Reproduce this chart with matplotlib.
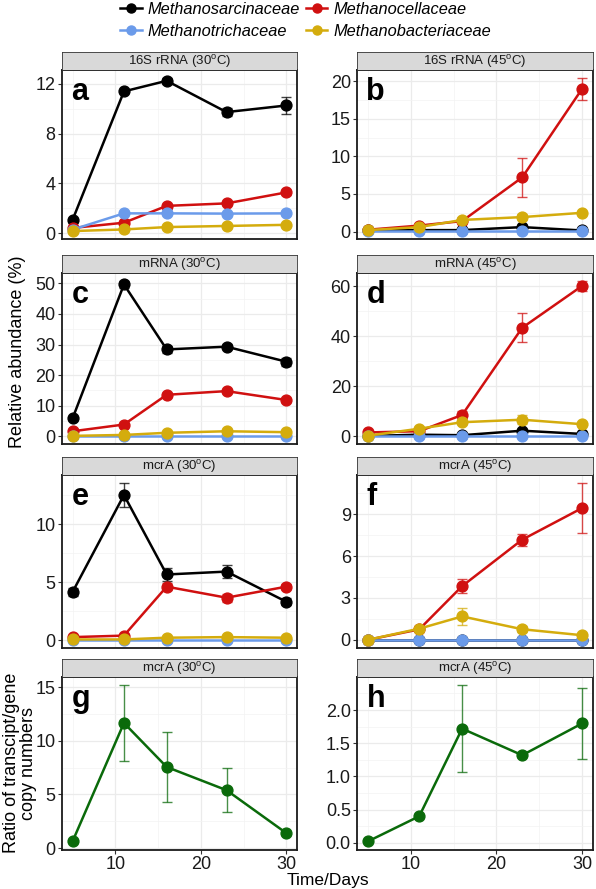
import matplotlib
matplotlib.use('Agg')
import matplotlib.pyplot as plt
from matplotlib.lines import Line2D
from matplotlib.ticker import MultipleLocator, FormatStrFormatter

plt.rcParams['font.family'] = ['Liberation Sans', 'DejaVu Sans']
plt.rcParams['mathtext.fontset'] = 'custom'
plt.rcParams['mathtext.rm'] = 'Liberation Sans'

days = [5, 11, 16, 23, 30]

# panel a: 16S rRNA 30C
a_sarc = [1.1, 11.38, 12.23, 9.72, 10.25]
a_sarc_err = [0.1, 0.15, 0.25, 0.35, 0.65]
a_cell = [0.43, 0.85, 2.2, 2.4, 3.28]
a_cell_err = [0.05, 0.1, 0.15, 0.15, 0.2]
a_trich = [0.3, 1.6, 1.6, 1.58, 1.6]
a_trich_err = [0.03, 0.1, 0.1, 0.1, 0.1]
a_bact = [0.18, 0.31, 0.5, 0.59, 0.68]
a_bact_err = [0.02, 0.05, 0.05, 0.05, 0.05]

# panel b: 16S rRNA 45C
b_sarc = [0.15, 0.2, 0.2, 0.6, 0.15]
b_sarc_err = [0.02, 0.05, 0.05, 0.1, 0.05]
b_cell = [0.25, 0.8, 1.4, 7.2, 19.0]
b_cell_err = [0.05, 0.1, 0.2, 2.6, 1.45]
b_trich = [0.05, 0.05, 0.05, 0.05, 0.05]
b_trich_err = [0.01, 0.01, 0.01, 0.01, 0.01]
b_bact = [0.2, 0.6, 1.55, 1.93, 2.5]
b_bact_err = [0.05, 0.1, 0.3, 0.4, 0.15]

# panel c: mRNA 30C
c_sarc = [6.0, 49.6, 28.4, 29.3, 24.4]
c_sarc_err = [0.5, 1.2, 1.2, 0.8, 1.3]
c_cell = [1.7, 3.9, 13.6, 14.8, 11.9]
c_cell_err = [0.2, 0.3, 0.6, 0.5, 0.6]
c_trich = [0.1, 0.1, 0.1, 0.1, 0.1]
c_trich_err = [0.02, 0.02, 0.02, 0.02, 0.02]
c_bact = [0.2, 0.5, 1.2, 1.7, 1.4]
c_bact_err = [0.05, 0.1, 0.2, 0.2, 0.2]

# panel d: mRNA 45C
d_sarc = [0.1, 0.6, 0.4, 2.2, 0.9]
d_sarc_err = [0.05, 0.2, 0.1, 0.5, 0.3]
d_cell = [1.5, 2.0, 8.5, 43.4, 60.2]
d_cell_err = [0.2, 0.3, 1.5, 5.9, 2.0]
d_trich = [0.0, 0.0, 0.0, 0.0, 0.0]
d_trich_err = [0.01, 0.01, 0.01, 0.01, 0.01]
d_bact = [0.2, 3.0, 5.6, 6.6, 4.8]
d_bact_err = [0.05, 0.4, 0.6, 1.8, 0.5]

# panel e: mcrA 30C
e_sarc = [4.16, 12.5, 5.65, 5.9, 3.3]
e_sarc_err = [0.35, 1.05, 0.55, 0.55, 0.3]
e_cell = [0.25, 0.38, 4.6, 3.65, 4.6]
e_cell_err = [0.03, 0.05, 0.3, 0.35, 0.2]
e_trich = [0.0, 0.0, 0.0, 0.0, 0.0]
e_trich_err = [0.01, 0.01, 0.01, 0.01, 0.01]
e_bact = [0.05, 0.05, 0.2, 0.25, 0.2]
e_bact_err = [0.01, 0.01, 0.03, 0.03, 0.03]

# panel f: mcrA 45C
f_sarc = [0.0, 0.0, 0.0, 0.0, 0.0]
f_sarc_err = [0.0, 0.0, 0.0, 0.0, 0.0]
f_cell = [0.0, 0.75, 3.85, 7.18, 9.45]
f_cell_err = [0.02, 0.1, 0.5, 0.44, 1.8]
f_trich = [0.0, 0.0, 0.0, 0.0, 0.0]
f_trich_err = [0.0, 0.0, 0.0, 0.0, 0.0]
f_bact = [0.0, 0.8, 1.68, 0.76, 0.33]
f_bact_err = [0.02, 0.2, 0.6, 0.2, 0.05]

# panels g, h: transcript/gene ratio
g_ratio = [0.66, 11.66, 7.56, 5.4, 1.4]
g_ratio_err = [0.1, 3.55, 3.3, 2.05, 0.2]
h_ratio = [0.02, 0.4, 1.72, 1.32, 1.8]
h_ratio_err = [0.01, 0.03, 0.66, 0.03, 0.53]

families = ['Methanosarcinaceae', 'Methanocellaceae',
            'Methanotrichaceae', 'Methanobacteriaceae']
fam_colors = ['#000000', '#D01010', '#6B9BEA', '#D4AC0D']
ratio_color = '#0A6A0A'

W, H = 596, 889
fig = plt.figure(figsize=(W / 100, H / 100), dpi=100, facecolor='white')

col_x = [(62, 297), (357, 593)]
row_y = [(70, 239), (273, 444), (475, 648), (677, 850)]
strip_h = 18


def make_axes(row, col, strip_label):
    x0, x1 = col_x[col]
    top, bottom = row_y[row]
    ax = fig.add_axes([x0 / W, 1 - bottom / H, (x1 - x0) / W,
                       (bottom - top) / H])
    sax = fig.add_axes([x0 / W, 1 - top / H, (x1 - x0) / W, strip_h / H])
    sax.set_facecolor('#D9D9D9')
    sax.set_xticks([])
    sax.set_yticks([])
    for sp in sax.spines.values():
        sp.set_color('#333333')
        sp.set_linewidth(0.6)
    sax.text(0.5, 0.45, strip_label, ha='center', va='center',
             fontsize=9.5, color='#1A1A1A', transform=sax.transAxes)
    return ax


def style_axes(ax, letter, yticks, bottom_row, series_vals, series_errs,
               yfmt=None):
    lo = min(min(v - e for v, e in zip(s, er))
             for s, er in zip(series_vals, series_errs))
    hi = max(max(v + e for v, e in zip(s, er))
             for s, er in zip(series_vals, series_errs))
    pad = 0.05 * (hi - lo)
    ax.set_ylim(lo - pad, hi + pad)
    ax.set_xlim(3.75, 31.25)
    ax.set_yticks(yticks)
    step = yticks[1] - yticks[0]
    ax.yaxis.set_minor_locator(MultipleLocator(step / 2))
    ax.set_xticks([10, 20, 30])
    ax.xaxis.set_minor_locator(MultipleLocator(5))
    ax.grid(which='major', color='#EBEBEB', linewidth=0.9)
    ax.grid(which='minor', color='#F3F3F3', linewidth=0.5)
    ax.set_axisbelow(True)
    ax.tick_params(which='minor', length=0)
    ax.tick_params(which='major', length=3, width=0.8, color='#333333',
                   labelsize=13, labelcolor='#1A1A1A', pad=1.5)
    if yfmt:
        ax.yaxis.set_major_formatter(FormatStrFormatter(yfmt))
    if not bottom_row:
        ax.tick_params(axis='x', which='both', length=0, labelbottom=False)
    for sp in ax.spines.values():
        sp.set_color('#1A1A1A')
        sp.set_linewidth(1.3)
    ax.text(0.04, 0.96, letter, transform=ax.transAxes, ha='left',
            va='top', fontsize=22, fontweight='bold')


def draw_series(ax, vals, errs, color):
    ax.errorbar(days, vals, yerr=errs, fmt='none', ecolor=color,
                elinewidth=1.0, capsize=3.5, capthick=1.0, alpha=0.75,
                zorder=3)
    ax.plot(days, vals, '-o', color=color, linewidth=1.8, markersize=7.8,
            zorder=4)


def family_panel(row, col, label, letter, yticks, sarc, sarc_err, cell,
                 cell_err, trich, trich_err, bact, bact_err):
    ax = make_axes(row, col, label)
    vals = [sarc, cell, trich, bact]
    errs = [sarc_err, cell_err, trich_err, bact_err]
    for i in range(4):
        draw_series(ax, vals[i], errs[i], fam_colors[i])
    style_axes(ax, letter, yticks, False, vals, errs)
    return ax


deg30 = r'(30$^{\rm o}$C)'
deg45 = r'(45$^{\rm o}$C)'

family_panel(0, 0, '16S rRNA ' + deg30, 'a', [0, 4, 8, 12],
             a_sarc, a_sarc_err, a_cell, a_cell_err, a_trich, a_trich_err,
             a_bact, a_bact_err)
family_panel(0, 1, '16S rRNA ' + deg45, 'b', [0, 5, 10, 15, 20],
             b_sarc, b_sarc_err, b_cell, b_cell_err, b_trich, b_trich_err,
             b_bact, b_bact_err)
family_panel(1, 0, 'mRNA ' + deg30, 'c', [0, 10, 20, 30, 40, 50],
             c_sarc, c_sarc_err, c_cell, c_cell_err, c_trich, c_trich_err,
             c_bact, c_bact_err)
family_panel(1, 1, 'mRNA ' + deg45, 'd', [0, 20, 40, 60],
             d_sarc, d_sarc_err, d_cell, d_cell_err, d_trich, d_trich_err,
             d_bact, d_bact_err)
family_panel(2, 0, 'mcrA ' + deg30, 'e', [0, 5, 10],
             e_sarc, e_sarc_err, e_cell, e_cell_err, e_trich, e_trich_err,
             e_bact, e_bact_err)
family_panel(2, 1, 'mcrA ' + deg45, 'f', [0, 3, 6, 9],
             f_sarc, f_sarc_err, f_cell, f_cell_err, f_trich, f_trich_err,
             f_bact, f_bact_err)

# ratio panels
ax_g = make_axes(3, 0, 'mcrA ' + deg30)
draw_series(ax_g, g_ratio, g_ratio_err, ratio_color)
style_axes(ax_g, 'g', [0, 5, 10, 15], True, [g_ratio], [g_ratio_err])

ax_h = make_axes(3, 1, 'mcrA ' + deg45)
draw_series(ax_h, h_ratio, h_ratio_err, ratio_color)
style_axes(ax_h, 'h', [0.0, 0.5, 1.0, 1.5, 2.0], True, [h_ratio],
           [h_ratio_err], yfmt='%.1f')

# axis titles
fig.text(18 / W, 1 - 352 / H, 'Relative abundance (%)', rotation=90,
         ha='center', va='center', fontsize=13)
fig.text(20 / W, 1 - 763 / H, 'Ratio of transcipt/gene\ncopy numbers',
         rotation=90, ha='center', va='center', fontsize=13,
         linespacing=0.95)
fig.text(328 / W, 1 - 881 / H, 'Time/Days', ha='center', va='center',
         fontsize=12.5)

# legend (row-wise: sarc, cell / trich, bact)
handles = [Line2D([], [], color=c, marker='o', linewidth=1.8, markersize=6.5)
           for c in fam_colors]
order = [0, 2, 1, 3]
leg = fig.legend([handles[i] for i in order], [families[i] for i in order],
                 ncol=2, loc='upper left',
                 bbox_to_anchor=(112 / W, 1 + 6 / H),
                 frameon=False, borderpad=0.0, handlelength=1.3,
                 handletextpad=0.35, columnspacing=0.4, labelspacing=0.42,
                 prop={'style': 'italic', 'size': 11.8})

fig.savefig('out.png', dpi=100, facecolor='white')
